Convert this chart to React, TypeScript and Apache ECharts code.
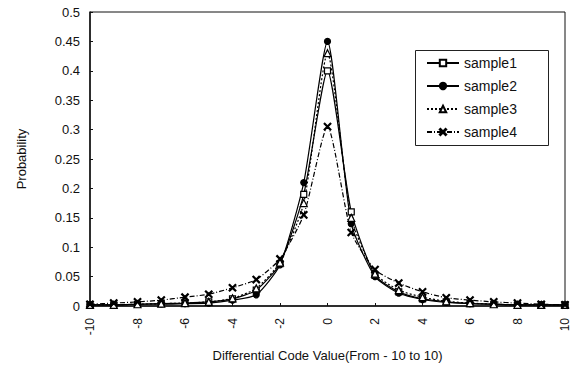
import React, { useEffect, useRef } from "react";
import * as echarts from "echarts";

const xs = [-10, -9, -8, -7, -6, -5, -4, -3, -2, -1, 0, 1, 2, 3, 4, 5, 6, 7, 8, 9, 10];
const sample1 = [0.002, 0.002, 0.003, 0.004, 0.005, 0.007, 0.012, 0.027, 0.072, 0.19, 0.40, 0.16, 0.052, 0.024, 0.012, 0.007, 0.004, 0.003, 0.002, 0.002, 0.002];
const sample2 = [0.002, 0.002, 0.003, 0.003, 0.004, 0.005, 0.01, 0.019, 0.07, 0.21, 0.45, 0.14, 0.05, 0.022, 0.011, 0.006, 0.004, 0.003, 0.002, 0.002, 0.002];
const sample3 = [0.002, 0.002, 0.003, 0.004, 0.005, 0.007, 0.013, 0.03, 0.074, 0.175, 0.43, 0.15, 0.055, 0.027, 0.015, 0.008, 0.005, 0.003, 0.002, 0.002, 0.002];
const sample4 = [0.003, 0.005, 0.007, 0.01, 0.015, 0.02, 0.031, 0.045, 0.08, 0.155, 0.305, 0.125, 0.062, 0.039, 0.024, 0.014, 0.01, 0.007, 0.005, 0.003, 0.002];
const seriesNames = ["sample1", "sample2", "sample3", "sample4"];
const xTickLabels = ["-10", "-8", "-6", "-4", "-2", "0", "2", "4", "6", "8", "10"];

const crossPath =
  "path://M0,1 L1,0 L5,4 L9,0 L10,1 L6,5 L10,9 L9,10 L5,6 L1,10 L0,9 L4,5 Z";

export default function App() {
  const ref = useRef<HTMLDivElement>(null);
  useEffect(() => {
    if (!ref.current) return;
    const chart = echarts.init(ref.current, undefined, { renderer: "svg" });
    const font = "Liberation Sans, Arial, sans-serif";
    const all = [sample1, sample2, sample3, sample4];
    const styles = [
      { symbol: "rect", size: 6, type: "solid", fill: "#fff" },
      { symbol: "circle", size: 6, type: "solid", fill: "#000" },
      { symbol: "triangle", size: 7, type: [2, 2], fill: "#fff" },
      { symbol: crossPath, size: 7, type: [5, 2, 1, 2], fill: "#000" },
    ];
    chart.setOption({
      animation: false,
      backgroundColor: "#fff",
      textStyle: { fontFamily: font },
      grid: {
        left: 90,
        right: 6,
        top: 12,
        bottom: 70,
        show: true,
        borderColor: "#111",
        borderWidth: 1,
      },
      graphic: [
        {
          type: "rect",
          z: 3,
          shape: { x: 415.5, y: 50.5, width: 133, height: 95 },
          style: { fill: "#fff", stroke: "#222", lineWidth: 1 },
        },
      ],
      legend: {
        orient: "vertical",
        left: 416,
        top: 51,
        z: 5,
        itemWidth: 32,
        itemHeight: 8,
        itemGap: 9,
        padding: [5, 10, 5, 10],
        borderWidth: 0,
        textStyle: { fontFamily: font, fontSize: 14, color: "#111" },
        data: seriesNames,
      },
      xAxis: {
        type: "value",
        min: -10,
        max: 10,
        interval: 2,
        name: "Differential Code Value(From - 10 to 10)",
        nameLocation: "middle",
        nameGap: 43,
        nameTextStyle: { fontFamily: font, fontSize: 13, color: "#111" },
        axisLine: { onZero: false, lineStyle: { color: "#111", width: 1.5 } },
        axisTick: { inside: true, length: 3, lineStyle: { color: "#111" } },
        splitLine: { show: false },
        axisLabel: {
          rotate: 90,
          fontSize: 12,
          color: "#111",
          margin: 12,
          formatter: (v: number) => xTickLabels[xTickLabels.indexOf(String(v))] ?? String(v),
        },
      },
      yAxis: {
        type: "value",
        min: 0,
        max: 0.5,
        interval: 0.05,
        name: "Probability",
        nameLocation: "middle",
        nameGap: 62,
        nameTextStyle: { fontFamily: font, fontSize: 13, color: "#111" },
        axisLine: { show: true, onZero: false, lineStyle: { color: "#111", width: 1.5 } },
        axisTick: { show: true, inside: true, length: 3, lineStyle: { color: "#111" } },
        splitLine: { show: false },
        axisLabel: {
          fontSize: 13,
          color: "#111",
          margin: 10,
          formatter: (v: number) => String(+v.toFixed(2)),
        },
      },
      series: all.map((d, i) => ({
        name: seriesNames[i],
        type: "line",
        smooth: 0.2,
        data: xs.map((x, j) => [x, d[j]]),
        symbol: styles[i].symbol,
        symbolSize: styles[i].size,
        showSymbol: true,
        lineStyle: { color: "#000", width: 1.2, type: styles[i].type as any },
        itemStyle: { color: styles[i].fill, borderColor: "#000", borderWidth: 1.2 },
      })),
    });
    return () => chart.dispose();
  }, []);
  return (
    <div
      ref={ref}
      style={{ position: "fixed", left: 0, top: 0, width: 571, height: 376 }}
    />
  );
}
